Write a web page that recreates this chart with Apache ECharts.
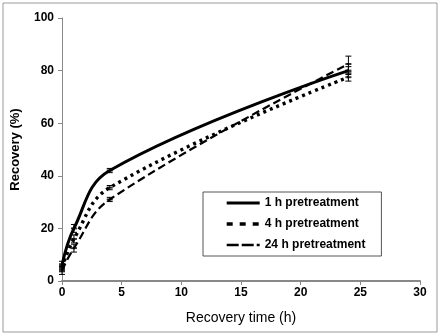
<!DOCTYPE html>
<html>
<head>
<meta charset="utf-8">
<script src="https://cdn.jsdelivr.net/npm/echarts@6/dist/echarts.min.js"></script>
<style>html,body{margin:0;padding:0;background:#fff;}#c{width:440px;height:336px;}</style>
</head>
<body>
<div id="c"></div>
<script>
const seriesNames = ['1 h pretreatment', '4 h pretreatment', '24 h pretreatment'];
const times = [0, 1, 4, 24];
const recovery1h = [6, 20, 42, 80];
const recovery4h = [5, 16, 35.5, 77.5];
const recovery24h = [4, 12.5, 31, 82.5];
const err1h = [1.5, 1.5, 0.8, 1.5];
const err4h = [1.5, 1.5, 0.8, 1.5];
const err24h = [1.5, 1.5, 0.8, 3];
const xTicks = [0, 5, 10, 15, 20, 25, 30];
const yTicks = [0, 20, 40, 60, 80, 100];

const values = [recovery1h, recovery4h, recovery24h];
const errs = [err1h, err4h, err24h];
const lineTypes = [
  {type: 'solid', width: 3},
  {type: [3, 4], width: 3.4},
  {type: [8, 4], width: 2.2}
];
const legendLines = [
  {type: 'solid', width: 3},
  {type: [6, 7], width: 3.4},
  {type: [12, 3], width: 2.4}
];
const font = 'Liberation Sans, Arial, sans-serif';

const series = [];
values.forEach((vals, i) => {
  series.push({
    name: seriesNames[i],
    type: 'line',
    data: times.map((t, j) => [t, vals[j]]),
    smooth: 0.4,
    symbol: 'none',
    lineStyle: Object.assign({color: '#000', cap: 'butt'}, lineTypes[i]),
    itemStyle: {color: '#000'},
    z: 3
  });
  series.push({
    type: 'scatter',
    data: times.map((t, j) => [t, vals[j]]),
    symbol: 'rect',
    symbolSize: [6, 2],
    itemStyle: {color: '#000'},
    z: 4,
    silent: true
  });
  series.push({
    type: 'custom',
    data: times.map((t, j) => [t, vals[j] - errs[i][j], vals[j] + errs[i][j]]),
    renderItem: function (params, api) {
      const lo = api.coord([api.value(0), api.value(1)]);
      const hi = api.coord([api.value(0), api.value(2)]);
      const w = 3;
      const st = {stroke: '#000', lineWidth: 1};
      return {type: 'group', children: [
        {type: 'line', shape: {x1: lo[0], y1: lo[1], x2: hi[0], y2: hi[1]}, style: st},
        {type: 'line', shape: {x1: lo[0] - w, y1: lo[1], x2: lo[0] + w, y2: lo[1]}, style: st},
        {type: 'line', shape: {x1: hi[0] - w, y1: hi[1], x2: hi[0] + w, y2: hi[1]}, style: st}
      ]};
    },
    z: 5,
    silent: true
  });
});

const chart = echarts.init(document.getElementById('c'), null, {renderer: 'canvas'});
chart.setOption({
  animation: false,
  backgroundColor: '#fff',
  textStyle: {fontFamily: font},
  grid: {left: 62, right: 20, top: 18, bottom: 55},
  graphic: [{
    type: 'rect', shape: {x: 3, y: 3, width: 434, height: 329},
    style: {fill: 'none', stroke: '#999', lineWidth: 1}, silent: true
  }],
  xAxis: {
    type: 'value', min: xTicks[0], max: xTicks[xTicks.length - 1], interval: 5,
    name: 'Recovery time (h)', nameLocation: 'middle', nameGap: 30,
    nameTextStyle: {fontSize: 14, color: '#000', fontFamily: font},
    axisLine: {lineStyle: {color: '#888', width: 2}},
    axisTick: {show: true, inside: false, length: 4, lineStyle: {color: '#888'}},
    axisLabel: {fontSize: 12, fontWeight: 'bold', color: '#000', margin: 6, fontFamily: font},
    splitLine: {show: false}
  },
  yAxis: {
    type: 'value', min: yTicks[0], max: yTicks[yTicks.length - 1], interval: 20,
    name: 'Recovery (%)', nameLocation: 'middle', nameGap: 40, nameRotate: 90,
    nameTextStyle: {fontSize: 13, fontWeight: 'bold', color: '#000', fontFamily: font},
    axisLine: {show: true, lineStyle: {color: '#888', width: 1}},
    axisTick: {show: true, inside: false, length: 4, lineStyle: {color: '#888'}},
    axisLabel: {fontSize: 12, fontWeight: 'bold', color: '#000', margin: 8, fontFamily: font},
    splitLine: {show: false}
  },
  legend: {
    data: seriesNames.map((n, i) => ({name: n, lineStyle: Object.assign({color: '#000'}, legendLines[i])})),
    orient: 'vertical',
    left: 203, top: 192,
    padding: [5, 16, 5, 22],
    itemGap: 9, itemWidth: 33, itemHeight: 14,
    itemStyle: {opacity: 0},
    borderColor: '#555', borderWidth: 1,
    textStyle: {fontSize: 12, fontWeight: 'bold', color: '#000', fontFamily: font},
    backgroundColor: '#fff'
  },
  series: series
});
</script>
</body>
</html>
